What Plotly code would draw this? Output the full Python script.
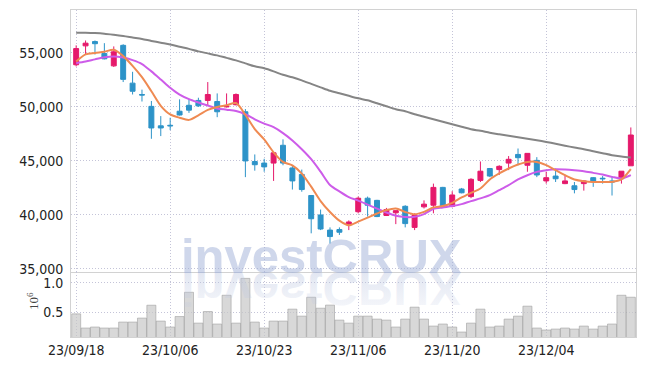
import base64
import plotly.graph_objects as go

dates = [
    "23/09/18", "23/09/19", "23/09/20", "23/09/21", "23/09/22", "23/09/25", "23/09/26", "23/09/27",
    "23/10/04", "23/10/05", "23/10/06", "23/10/10", "23/10/11", "23/10/12", "23/10/13", "23/10/16",
    "23/10/17", "23/10/18", "23/10/19", "23/10/20", "23/10/23", "23/10/24", "23/10/25", "23/10/26",
    "23/10/27", "23/10/30", "23/10/31", "23/11/01", "23/11/02", "23/11/03", "23/11/06", "23/11/07",
    "23/11/08", "23/11/09", "23/11/10", "23/11/13", "23/11/14", "23/11/15", "23/11/16", "23/11/17",
    "23/11/20", "23/11/21", "23/11/22", "23/11/23", "23/11/24", "23/11/27", "23/11/28", "23/11/29",
    "23/11/30", "23/12/01", "23/12/04", "23/12/05", "23/12/06", "23/12/07", "23/12/08", "23/12/11",
    "23/12/12", "23/12/13", "23/12/14", "23/12/15",
]

open_ = [53900, 55650, 56050, 54950, 53800, 55700, 52200, 51150, 50050, 48250,
         48300, 49600, 50150, 50600, 50600, 50500, 50000, 50200, 49550, 44950,
         44800, 44800, 46450, 44350, 43750, 41800, 40000, 38600, 38650, 39150,
         40300, 41550, 41350, 39950, 40200, 40800, 38850, 40750, 40900, 42550,
         40800, 42400, 41700, 43200, 44300, 44200, 44800, 45600, 44600, 45050,
         43150, 43600, 42900, 42700, 42900, 43450, 43400, 43150, 43350, 44550]
high = [55700, 56150, 56150, 55900, 55600, 55800, 53250, 51600, 50550, 49150,
        49000, 50700, 50700, 50850, 52300, 51250, 51250, 51250, 49800, 45600,
        45200, 45750, 47000, 44600, 44200, 41800, 40500, 38850, 38850, 39500,
        41700, 41700, 41400, 40650, 40400, 40900, 40150, 41350, 42900, 42600,
        42200, 42500, 43400, 44950, 44350, 44600, 45450, 46150, 45700, 45350,
        44000, 44300, 43700, 43050, 43200, 43500, 43600, 43600, 44050, 48100]
low = [53750, 54850, 54850, 54400, 53700, 52300, 51150, 50500, 47050, 47300,
       47850, 49200, 49450, 50000, 50150, 49050, 49950, 50150, 43500, 44100,
       44000, 43150, 44600, 42350, 42150, 38300, 38600, 37350, 38150, 38600,
       40150, 39850, 39800, 39900, 39150, 38850, 38600, 40600, 40150, 40800,
       40700, 42000, 41550, 43050, 43500, 43700, 44150, 44600, 44000, 43500,
       42900, 43050, 42850, 42000, 42250, 42600, 42900, 41800, 42900, 44550]
close = [55400, 55900, 55850, 54450, 55100, 52550, 51450, 51100, 48050, 48050,
         48250, 49250, 49700, 50100, 51150, 49550, 50050, 51150, 45000, 44650,
         44450, 45750, 44800, 43150, 42350, 39650, 38700, 38000, 38400, 39350,
         41550, 40900, 39850, 40500, 40400, 39200, 40000, 41000, 42550, 40800,
         41850, 42050, 43300, 44050, 43600, 44500, 45150, 45300, 45700, 43700,
         43450, 43350, 43150, 42350, 43150, 43150, 43350, 43050, 44050, 47400]

ma_short = [54200, 54860, 55000, 55100, 55290, 54700, 53800, 52750, 51450, 50100,
            49300, 49000, 48800, 49225, 49720, 49990, 50150, 50360, 49270, 47950,
            46990, 45800, 44910, 44580, 43830, 42620, 41280, 40270, 39470, 39040,
            39380, 39750, 40130, 40450, 40600, 40280, 40070, 40290, 40700, 40820,
            41120, 41620, 42045, 42450, 43285, 43840, 44300, 44670, 44910, 44910,
            44605, 44140, 43680, 43285, 43125, 43060, 43060, 43060, 43285, 44235]
ma_mid = [54050, 54200, 54400, 54590, 54675, 54570, 54330, 53970, 53290, 52540,
          51775, 51140, 50720, 50410, 50125, 49860, 49740, 49620, 49320, 48855,
          48460, 48120, 47575, 46900, 46085, 45160, 44005, 42780, 42180, 41650,
          41330, 40960, 40590, 40230, 39930, 39810, 39830, 40080, 40560, 40700,
          40820, 41000, 41280, 41530, 41835, 42295, 42760, 43285, 43680, 43985,
          44140, 44235, 44205, 44140, 44050, 43895, 43745, 43525, 43375, 43680]
ma_long = [56870, 56860, 56830, 56775, 56680, 56570, 56430, 56295, 56110, 55945,
           55785, 55575, 55370, 55140, 54955, 54770, 54540, 54310, 54030, 53755,
           53570, 53290, 52970, 52740, 52460, 52135, 51810, 51490, 51260, 51025,
           50795, 50610, 50335, 50055, 49780, 49595, 49320, 49085, 48855, 48625,
           48390, 48160, 47930, 47790, 47610, 47470, 47330, 47190, 47055, 46915,
           46760, 46590, 46410, 46240, 46085, 45900, 45715, 45530, 45410, 45320]

volume_m = [0.478, 0.240, 0.257, 0.240, 0.240, 0.340, 0.340, 0.407, 0.623, 0.357,
            0.257, 0.433, 0.840, 0.323, 0.517, 0.307, 0.790, 0.323, 1.073, 0.340,
            0.240, 0.357, 0.357, 0.557, 0.440, 0.757, 0.573, 0.625, 0.373, 0.323,
            0.440, 0.440, 0.390, 0.373, 0.257, 0.390, 0.590, 0.390, 0.273, 0.307,
            0.257, 0.173, 0.323, 0.557, 0.257, 0.273, 0.390, 0.440, 0.607, 0.240,
            0.207, 0.223, 0.240, 0.223, 0.273, 0.223, 0.273, 0.307, 0.790, 0.757]

tick_dates = ["23/09/18", "23/10/06", "23/10/23", "23/11/06", "23/11/20", "23/12/04"]
price_ticks = [35000, 40000, 45000, 50000, 55000]
volume_ticks = [0.5, 1.0]

RED = "#e5196b"
BLUE = "#2d93c8"
ORANGE = "#ef8a52"
PURPLE = "#cd5ce9"
GRAY = "#858585"
GRID = "#c4c4d8"
GRIDDASH = "1px,2px"
FRAME = "#d2d2d2"
TICKFONT = dict(family="Liberation Sans Narrow, DejaVu Sans Condensed, Arial Narrow, sans-serif",
                size=14, color="#222222")

# The page body has an 8px default margin; plot area in page pixels is x 71..636, y 10..337.
BODY = 8
W, H = 645, 366
PX0, PX1, PY0, PY1 = 71, 636, 10, 337
ML, MT = PX0 - BODY, PY0 - BODY
MR, MB = W - (PX1 - BODY), H - (PY1 - BODY)
PW, PH = PX1 - PX0, PY1 - PY0
split = (PY1 - 272) / PH


def px(x):
    return (x - PX0) / PW


def py(y):
    return (PY1 - y) / PH


fig = go.Figure()
fig.add_trace(go.Candlestick(
    x=dates, open=open_, high=high, low=low, close=close,
    increasing=dict(line=dict(color=RED, width=1), fillcolor=RED),
    decreasing=dict(line=dict(color=BLUE, width=1), fillcolor=BLUE),
    whiskerwidth=0, xaxis="x", yaxis="y", showlegend=False,
))
for vals, col in [(ma_long, GRAY), (ma_mid, PURPLE), (ma_short, ORANGE)]:
    fig.add_trace(go.Scatter(x=dates, y=vals, mode="lines",
                             line=dict(color=col, width=2, shape="spline", smoothing=0.8),
                             xaxis="x", yaxis="y", showlegend=False, hoverinfo="skip"))
fig.add_trace(go.Bar(x=dates, y=volume_m, xaxis="x2", yaxis="y2",
                     marker=dict(color="rgba(200,200,200,0.7)",
                                 line=dict(color="rgba(160,160,160,0.6)", width=1)),
                     showlegend=False))

xcommon = dict(type="category", range=[-0.55, 59.55], tickmode="array",
               tickvals=tick_dates, ticktext=tick_dates,
               showgrid=True, gridcolor=GRID, griddash=GRIDDASH, gridwidth=1,
               showline=True, linecolor=FRAME, linewidth=1,
               zeroline=False, automargin=False, fixedrange=True)
ycommon = dict(showgrid=True, gridcolor=GRID, griddash=GRIDDASH, gridwidth=1,
               showline=True, mirror=True, linecolor=FRAME, linewidth=1,
               zeroline=False, automargin=False, tickfont=TICKFONT,
               ticks="outside", ticklen=4, tickcolor="rgba(0,0,0,0)")

wm_svg = (
    '<svg xmlns="http://www.w3.org/2000/svg" width="300" height="60" viewBox="0 0 300 60">'
    '<defs><linearGradient id="g" x1="0" y1="0" x2="0" y2="1">'
    '<stop offset="0" stop-color="#bcc6e0" stop-opacity="0.1"/>'
    '<stop offset="1" stop-color="#bcc6e0" stop-opacity="0.5"/>'
    '</linearGradient></defs>'
    '<text x="5" y="-1" transform="scale(1,-1)" font-family="Liberation Sans, Arial, sans-serif" '
    'font-weight="bold" font-size="49" fill="url(#g)">investCRUX</text></svg>'
)
wm_src = "data:image/svg+xml;base64," + base64.b64encode(wm_svg.encode()).decode()

fig.update_layout(
    width=W, height=H, margin=dict(l=ML, r=MR, t=MT, b=MB),
    paper_bgcolor="white", plot_bgcolor="white",
    boxgap=0.25, bargap=0.04,
    xaxis=dict(xcommon, anchor="y", mirror=True, showticklabels=False,
               rangeslider=dict(visible=False)),
    xaxis2=dict(xcommon, anchor="y2", matches="x", mirror=False, showticklabels=True,
                tickfont=TICKFONT, ticks="", ticklen=0),
    yaxis=dict(ycommon, domain=[split, 1], range=[34720, 58970],
               tickvals=price_ticks, tickformat=",d"),
    yaxis2=dict(ycommon, domain=[0, split], range=[0.09, 1.18],
                tickvals=volume_ticks, tickformat=".1f"),
    annotations=[
        dict(text="<b>investCRUX</b>", xref="paper", yref="paper",
             x=px(321.5), y=py(285), xanchor="center", yanchor="bottom",
             showarrow=False,
             font=dict(family="Liberation Sans, Arial, sans-serif", size=49,
                       color="rgba(160,175,215,0.5)")),
        dict(text="10<sup>6</sup>", xref="paper", yref="paper",
             x=px(33), y=py(301), xanchor="center", yanchor="middle",
             textangle=-90, showarrow=False,
             font=dict(family="Liberation Serif, DejaVu Serif, serif", size=13, color="#444444")),
    ],
    images=[dict(source=wm_src, xref="paper", yref="paper",
                 x=px(176), y=py(271),
                 sizex=300 / PW, sizey=60 / PH, xanchor="left", yanchor="top",
                 sizing="stretch", layer="above")],
)

fig.write_html("out.html")
